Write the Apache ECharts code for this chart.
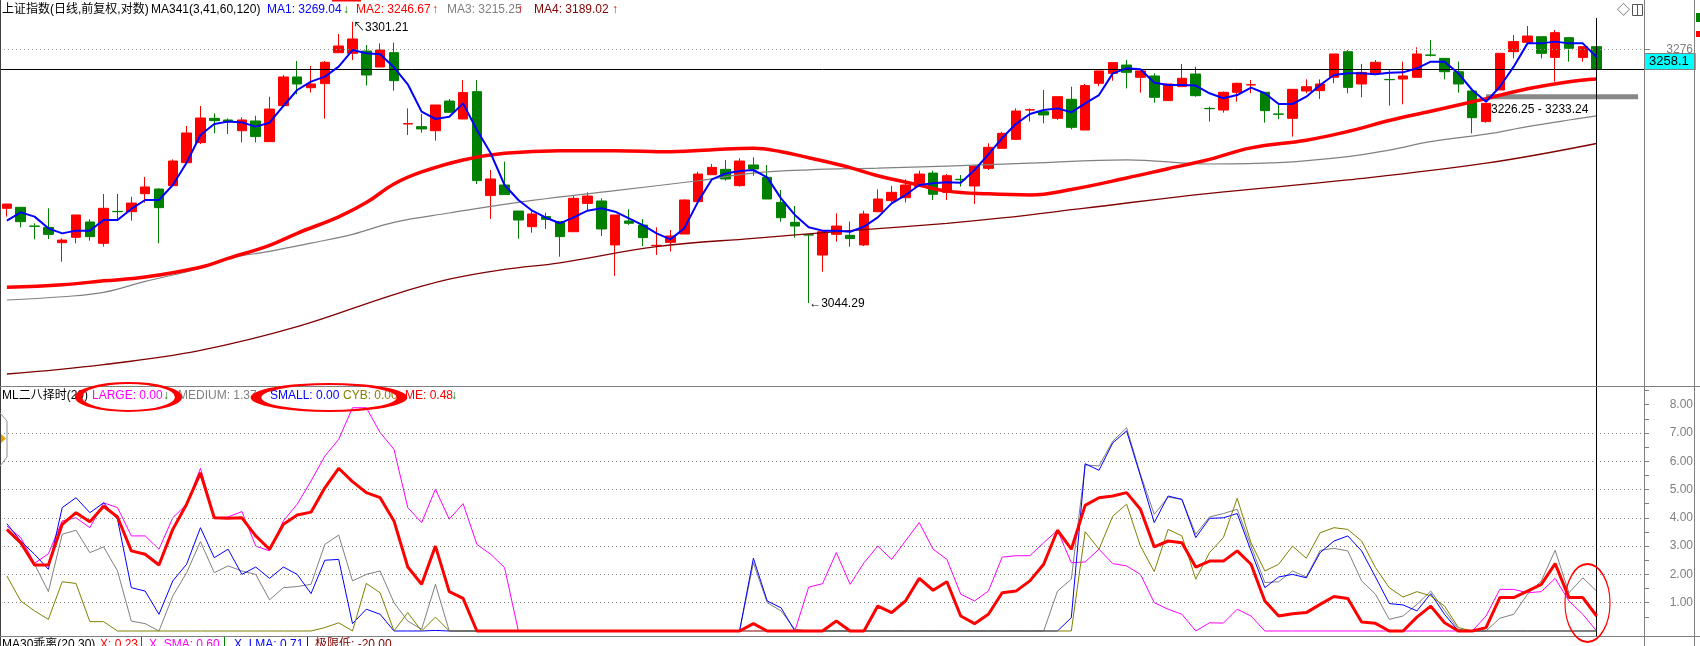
<!DOCTYPE html>
<html><head><meta charset="utf-8">
<script src="https://cdn.jsdelivr.net/npm/echarts@6/dist/echarts.min.js"></script>
<style>html,body{margin:0;padding:0;background:#fff}#c{width:1700px;height:646px}</style>
</head><body><div id="c"></div>
<script>
// ---------------- DATA ----------------
const openP = [3130.8,3131.7,3114.6,3113.4,3099.4,3104.3,3118.3,3098.8,3128.0,3127.7,
3144.2,3148.4,3151.5,3172.5,3190.8,3213.0,3211.5,3201.7,3210.6,3191.7,
3224.6,3250.8,3241.0,3244.7,3273.0,3272.4,3274.5,3259.9,3273.0,3207.8,
3205.4,3201.7,3228.8,3212.4,3237.4,3142.4,3152.1,3128.3,3114.0,3123.2,
3118.6,3109.4,3135.3,3137.5,3097.3,3119.2,3115.5,3096.7,3099.7,3107.3,
3136.9,3161.5,3166.4,3151.5,3170.4,3159.1,3136.2,3118.0,3106.6,3088.1,
3107.0,3106.1,3097.3,3127.7,3137.8,3140.5,3150.6,3163.0,3145.4,3157.3,
3151.2,3167.3,3185.6,3193.8,3220.6,3219.1,3213.0,3230.4,3202.3,3245.0,
3254.1,3261.7,3250.5,3251.7,3229.2,3242.0,3253.5,3222.1,3220.6,3236.8,
3243.5,3236.8,3217.0,3213.0,3238.0,3238.3,3250.5,3273.9,3244.4,3254.1,
3248.6,3248.9,3250.5,3270.9,3267.8,3255.6,3238.0,3210.0,3238.9,3273.9,
3282.5,3287.6,3268.7,3286.7,3268.7,3278.5];
const closeP = [3134.7,3118.6,3114.3,3107.0,3101.8,3124.7,3104.9,3130.8,3127.7,3135.6,
3150.3,3131.4,3174.0,3199.6,3213.3,3210.9,3209.9,3211.5,3196.3,3221.5,
3250.8,3244.4,3244.4,3264.2,3279.1,3285.5,3252.6,3275.4,3247.4,3208.3,
3203.3,3225.2,3218.5,3236.5,3156.1,3157.6,3143.3,3120.1,3125.6,3120.7,
3104.9,3139.9,3142.0,3111.9,3124.7,3117.1,3104.0,3097.0,3105.5,3138.4,
3162.1,3168.2,3157.6,3174.0,3166.7,3139.3,3122.2,3114.6,3106.4,3109.4,
3114.6,3103.1,3125.6,3139.3,3145.4,3152.1,3162.1,3143.6,3160.6,3156.9,
3169.5,3186.5,3199.3,3219.7,3220.9,3216.1,3232.8,3204.8,3242.9,3256.3,
3263.9,3255.0,3256.3,3232.2,3244.4,3249.6,3233.7,3221.8,3236.8,3245.0,
3243.8,3220.0,3216.7,3239.5,3241.9,3244.4,3271.8,3241.3,3255.0,3264.2,
3248.3,3251.7,3271.8,3270.6,3255.6,3244.4,3213.6,3226.7,3272.4,3283.1,
3288.2,3272.4,3291.3,3277.0,3278.5,3258.1];
const lowP = [3123.2,3113.4,3102.4,3102.7,3082.0,3098.8,3101.2,3095.8,3120.7,3119.5,
3136.0,3098.8,3151.5,3172.5,3189.5,3199.3,3198.7,3191.1,3191.1,3191.7,
3223.7,3235.0,3236.5,3212.7,3273.0,3266.3,3242.9,3259.9,3238.3,3197.8,
3199.9,3192.6,3218.5,3212.4,3153.0,3121.0,3143.3,3103.0,3108.5,3111.9,
3086.6,3109.4,3129.2,3105.5,3069.0,3115.5,3096.3,3088.1,3091.2,3107.3,
3136.9,3161.5,3156.0,3150.6,3160.6,3139.3,3118.6,3104.0,3044.29,3072.9,
3100.3,3095.7,3096.3,3127.7,3136.2,3136.2,3150.6,3138.4,3138.4,3150.6,
3134.7,3165.8,3185.6,3193.8,3210.0,3208.4,3211.5,3203.0,3202.3,3242.6,
3247.4,3240.4,3236.5,3227.3,3229.2,3242.0,3232.8,3210.0,3218.2,3228.2,
3235.9,3209.1,3212.1,3196.3,3235.9,3230.7,3245.0,3235.9,3232.2,3254.1,
3224.6,3225.8,3250.5,3269.4,3248.6,3236.5,3199.3,3209.1,3238.9,3267.8,
3281.5,3267.8,3246.5,3264.8,3264.8,3254.1];
const highP = [3134.7,3131.7,3117.1,3130.8,3103.4,3124.7,3120.7,3143.9,3143.9,3141.4,
3159.4,3149.0,3175.5,3206.0,3224.3,3217.6,3213.0,3213.9,3215.4,3232.8,
3252.6,3265.4,3260.8,3265.4,3290.0,3301.21,3280.0,3281.5,3282.1,3222.1,
3217.0,3225.2,3230.7,3248.0,3248.0,3165.8,3173.4,3128.3,3129.8,3126.8,
3118.6,3142.9,3145.4,3139.9,3124.7,3129.9,3121.0,3113.4,3111.0,3139.0,
3164.3,3171.3,3174.9,3176.5,3177.4,3170.4,3147.5,3132.9,3106.6,3109.4,
3126.2,3118.6,3128.6,3148.1,3151.2,3157.3,3165.2,3165.2,3162.1,3161.2,
3169.5,3190.2,3200.8,3222.1,3222.1,3238.9,3232.8,3241.9,3244.4,3256.3,
3263.9,3266.3,3256.3,3254.1,3244.4,3262.7,3260.2,3223.7,3237.4,3245.6,
3248.0,3236.8,3225.2,3239.5,3248.6,3248.6,3271.8,3275.4,3262.7,3266.3,
3257.2,3264.8,3277.9,3284.6,3267.8,3264.8,3238.0,3226.7,3272.4,3289.2,
3297.4,3287.6,3293.7,3286.7,3278.5,3278.5];

// MA1 (3-day), read at every candle
const ma1 = [3119.5,3127.1,3123.2,3112.5,3107.9,3110.4,3110.4,3120.1,3120.1,3130.2,
3138.4,3138.4,3152.1,3172.5,3197.8,3207.8,3210.0,3209.3,3205.4,3209.0,
3224.3,3238.9,3246.5,3251.1,3260.2,3275.4,3272.4,3271.5,3259.6,3244.1,
3219.1,3212.4,3214.5,3226.7,3202.3,3181.0,3152.1,3138.4,3128.6,3122.2,
3117.1,3122.5,3128.6,3130.8,3127.7,3121.6,3115.5,3107.9,3102.4,3112.5,
3136.9,3157.3,3162.7,3164.9,3165.8,3159.1,3139.9,3124.7,3113.4,3110.4,
3110.4,3109.4,3114.0,3122.5,3135.3,3142.9,3152.1,3153.6,3154.5,3154.2,
3165.8,3180.0,3195.0,3208.0,3217.0,3220.6,3222.1,3218.5,3226.7,3234.3,
3254.1,3258.7,3257.8,3245.6,3243.5,3243.5,3242.9,3235.9,3231.3,3234.3,
3241.0,3235.9,3226.1,3226.1,3232.8,3243.5,3252.6,3254.1,3254.1,3253.2,
3254.7,3255.0,3258.7,3264.8,3264.8,3254.1,3238.9,3228.2,3241.9,3260.2,
3281.5,3281.5,3283.1,3281.5,3281.5,3269.04];
// smooth MAs, read at selected candles [candle index, value]
const ma2Pts = [[0,3058.6],[4,3061],[7,3064.5],[10,3068],[14,3077],[16,3085],[19,3097],[21,3108],[24,3123],[26,3136],[28,3153],[30,3164],[33,3175],[36,3181],[40,3183.5],[44,3183.5],[48,3182.5],[52,3185],[54,3185.6],[56,3182.5],[58,3177],[61,3168],[63,3160.5],[66,3152],[68,3146.5],[71,3144],[74,3143],[77,3148],[81,3158.5],[84,3167],[87,3175.5],[90,3186],[94,3193],[97,3201],[100,3211],[103,3219.5],[107,3231],[110,3240],[113,3246.5],[115,3249]];
const ma3Pts = [[0,3047],[4,3050],[7,3054],[10,3064],[14,3076],[16,3085],[19,3091.5],[22,3099],[25,3107],[28,3118],[32,3126.5],[38,3138],[44,3147],[50,3156],[54,3163],[58,3166],[63,3167.5],[68,3169.4],[74,3172],[81,3175],[87,3171.3],[92,3172.5],[97,3178],[100,3184],[103,3191.7],[107,3198.5],[110,3205.4],[113,3211.5],[115,3215.25]];
const ma4Pts = [[0,2979.4],[7,2988],[14,3001],[21,3022.6],[28,3052],[32,3066],[36,3075],[40,3081],[47,3095.7],[54,3103.4],[61,3110.4],[68,3117.1],[72,3122],[78,3131],[87,3144.5],[97,3156.7],[107,3172],[115,3190]];

// indicator panel "ML二八择时(20)"
const large = [3.71,3.30,2.39,2.73,3.89,4.00,3.65,4.53,4.36,3.36,
3.36,2.89,4.00,4.48,5.75,4.00,4.03,4.22,3.00,2.83,
3.89,4.48,5.30,6.18,6.77,7.89,7.89,7.01,6.42,4.36,
3.83,5.01,3.95,4.50,3.06,2.71,2.24,0,0,0,
0,0,0,0,0,0,0,0,0,0,
0,0,0,0,0,0,0,0,1.55,1.67,
2.77,1.65,2.41,3.00,2.53,3.18,3.83,2.89,2.53,1.30,
1.06,1.41,2.61,2.66,2.66,3.12,3.56,2.41,2.44,2.89,
2.38,2.30,2.00,1.00,0.77,0.59,0,0.29,0.28,0.77,
0.53,0,0,0,0,0,0,0,0,0,
0,0,0,0,0,0,0,0.53,1.47,1.47,
1.35,1.39,1.86,1.06,0.59,0];
const medium = [3.53,3.06,2.36,1.39,3.42,3.56,2.77,2.97,2.12,0.35,
0.26,0,1.24,2.06,3.16,2.06,2.30,2.12,2.00,1.10,
1.53,1.57,1.65,3.06,3.39,1.77,2.00,2.12,1.00,0.35,
0.06,1.65,0,0,0,0,0,0,0,0,
0,0,0,0,0,0,0,0,0,0,
0,0,0,0,2.41,1.00,0.71,0.06,0,0,
0,0,0,0,0,0,0,0,0,0,
0,0,0,0,0,0,1.41,1.83,5.87,5.83,
6.71,7.18,5.54,4.12,4.73,4.65,3.42,4.03,4.15,4.30,
3.00,1.71,1.74,2.12,1.91,2.85,2.92,2.83,1.77,1.30,
0.41,0.53,0.94,1.41,0.73,0.06,0,0,0.45,0.59,
1.30,1.77,2.85,1.35,1.88,1.41];
const small = [3.79,3.18,2.71,2.18,4.36,4.71,4.18,4.53,3.95,1.53,
1.41,0.59,1.77,2.36,3.65,2.59,2.89,2.00,2.26,1.86,
2.26,2.00,1.32,2.50,2.53,0.26,0.77,0.59,0,0,
0,0.02,0,0,0,0,0,0,0,0,
0,0,0,0,0,0,0,0,0,0,
0,0,0,0,2.57,1.06,0.82,0,0,0,
0,0,0,0,0,0,0,0,0,0,
0,0,0,0,0,0,0,0.47,5.91,5.68,
6.65,7.07,5.48,3.83,4.77,4.65,3.30,3.98,4.00,4.15,
2.83,1.53,1.91,2.00,1.88,2.77,3.18,3.36,2.83,1.91,
0.97,0.92,0.71,1.32,0.59,0,0,0,0,0,
0,0,0,0,0,0];
const cyb = [1.94,1.06,0.71,0.41,1.74,1.68,0.33,0.33,0,0,
0,0,0,0,0,0,0,0,0,0,
0,0,0,0.12,0.29,0,1.68,1.35,0,0.65,
0,0.49,0,0,0,0,0,0,0,0,
0,0,0,0,0,0,0,0,0,0,
0,0,0,0,0,0,0,0,0,0,
0,0,0,0,0,0,0,0,0,0,
0,0,0,0,0,0,0,0,3.51,2.89,
4.06,4.48,3.00,2.10,3.59,3.36,1.83,2.77,3.30,4.69,
3.12,2.12,2.36,3.00,2.57,3.47,3.65,3.59,3.18,2.24,
1.53,1.20,1.39,1.24,0.88,0.12,0,0,0,0,
0,0,0,0,0,0];
const me = [3.59,3.12,2.33,2.33,3.77,4.18,3.86,4.41,4.03,2.83,
2.71,2.33,3.59,4.48,5.59,4.00,3.98,4.00,3.36,2.89,
3.77,4.10,4.20,5.06,5.75,5.28,4.89,4.71,3.89,2.26,
1.65,3.00,1.39,1.15,0,0,0,0,0,0,
0,0,0,0,0,0,0,0,0,0,
0,0,0,0,0.26,0,0,0,0,0,
0.35,0,0,0.88,0.65,1.06,1.86,1.44,1.74,0.53,
0.26,0.59,1.35,1.41,1.77,2.36,3.56,2.89,4.44,4.71,
4.77,4.89,4.30,2.97,3.18,3.12,2.26,2.47,2.47,2.83,
2.36,1.06,0.53,0.61,0.65,0.94,1.22,1.15,0.32,0.27,
0,0,0.49,0.88,0.29,0,0,0.12,1.18,1.18,
1.41,1.65,2.38,1.18,1.18,0.53];

// ticks / labels / legend values
const priceTicks = [3276];
const lastClose = 3258.1;
const gapBand = [3230.4, 3235.0];
const gapLabel = '3226.25 - 3233.24';
const indTicks = [1,2,3,4,5,6,7,8];
const indMinorTicks = [0.5,1,1.5,2,2.5,3,3.5,4,4.5,5,5.5,6,6.5,7,7.5,8,8.5];
const indGridLevels = [1,2,3,4,5,6,7];
const maNames = ['MA1','MA2','MA3','MA4'];
const maLast = ['3269.04','3246.67','3215.25','3189.02'];
const maArrow = ['↓','↑','↑','↑'];
const indNames = ['LARGE','MEDIUM','SMALL','CYB','ME'];
const indLast = ['0.00','1.37','0.00','0.00','0.48'];
const indArrow = ['↓','↓','','','↓'];
const subNames = ['X','X_SMA','X_LMA','极限低'];
const subLast = ['0.23','0.60','0.71','-20.00'];
const extraSlots = 3; // empty slots right of the last candle

// ---------------- CHART ----------------
const FONT = "'Liberation Sans','Noto Sans CJK SC',sans-serif";
const nCat = openP.length + extraSlots;
const cats = Array.from({length: nCat}, (_, i) => String(i));
const candles = openP.map((o, i) => [o, closeP[i], lowP[i], highP[i]]);
const lastIdx = openP.length - 1;
let hiIdx = 0, loIdx = 0;
highP.forEach((v, i) => { if (v > highP[hiIdx]) hiIdx = i; });
lowP.forEach((v, i) => { if (v < lowP[loIdx]) loIdx = i; });

const C = { blue:'#0000ff', red:'#ff0000', gray:'#808080', dred:'#800000', mag:'#ff00ff', olive:'#808000', green:'#008000' };

function txt(x, y, text, color, size, extra) {
  return Object.assign({ type:'text', x:x, y:y, silent:true, z:100,
    style:{ text:text, fill:color, font:(size||12)+'px '+FONT, verticalAlign:'middle' } }, extra||{});
}
function ln(x1,y1,x2,y2,color,w) {
  return { type:'line', silent:true, z:90, shape:{x1:x1,y1:y1,x2:x2,y2:y2}, style:{stroke:color, lineWidth:w||1} };
}
function ell(cx, cy, rx, ry) {
  return { type:'circle', silent:true, z:110, x:cx, y:cy, scaleX:rx/ry, scaleY:1,
    shape:{cx:0, cy:0, r:ry}, style:{fill:'none', stroke:'#ff0000', lineWidth:2, strokeNoScale:true} };
}

const g = [];
// main header
g.push(txt(2, 10, '上证指数(日线,前复权,对数)', '#000', 12));
g.push(txt(151, 10, 'MA341(3,41,60,120)', '#000', 12));
const maCol = [C.blue, C.red, C.gray, C.dred];
const maX = [267, 356, 447, 534], maAx = [343, 432, 517, 612];
const arrowCol = a => a === '↓' ? C.green : C.red;
maNames.forEach((n, i) => {
  g.push(txt(maX[i], 10, n + ': ' + maLast[i], maCol[i], 12));
  g.push(txt(maAx[i], 10, maArrow[i], arrowCol(maArrow[i]), 12));
});
// indicator header
g.push(txt(2, 396, 'ML二八择时(20)', '#000', 12));
const indCol = [C.mag, C.gray, C.blue, C.olive, C.red];
const indX = [92, 178, 270, 343, 405], indAx = [163, 255, 0, 0, 451];
indNames.forEach((n, i) => {
  g.push(txt(indX[i], 396, n + ': ' + indLast[i], indCol[i], 12));
  if (indArrow[i]) g.push(txt(indAx[i], 396, indArrow[i], C.green, 12));
});
// bottom (cut) header
g.push(txt(2, 645, 'MA30乖离(20,30)', '#000', 12));
const subCol = [C.red, C.mag, C.blue, C.dred];
const subX = [100, 149, 234, 315];
subNames.forEach((n, i) => g.push(txt(subX[i], 645, n + ': ' + subLast[i], subCol[i], 12)));
g.push(ln(141.5, 637, 141.5, 646, C.green, 1));
g.push(ln(224.5, 637, 224.5, 646, C.green, 1));
g.push(ln(307.5, 637, 307.5, 646, C.dred, 1));
// frame lines
g.push(ln(0.5, 0, 0.5, 646, '#404040', 1));
g.push(ln(1644.5, 0, 1644.5, 646, C.gray, 1));
g.push(ln(1694.5, 0, 1694.5, 646, C.gray, 1));
g.push(ln(0, 386.5, 1700, 386.5, C.gray, 1));
g.push(ln(0, 636.5, 1700, 636.5, C.gray, 1));
g.push(ln(332, 0.5, 361, 0.5, C.red, 2));
// icons top right
g.push(txt(1617, 10, '◇', '#555', 13));
g.push({ type:'rect', silent:true, z:100, shape:{x:1632.5, y:4.5, width:10, height:11}, style:{fill:'none', stroke:'#555', lineWidth:1} });
g.push(ln(1637.5, 4.5, 1637.5, 15.5, '#555', 1));
g.push({ type:'rect', silent:true, z:100, shape:{x:1696, y:13, width:4, height:9}, style:{fill:C.green} });
g.push({ type:'rect', silent:true, z:100, shape:{x:1696, y:31, width:4, height:6}, style:{fill:C.red} });
// small marker at the left of indicator panel
g.push({ type:'polyline', silent:true, z:100, shape:{points:[[0,413],[7,421],[7,457],[0,466]]}, style:{stroke:'#909090', lineWidth:1, fill:'none'} });
g.push({ type:'polygon', silent:true, z:100, shape:{points:[[1,434],[6,438.5],[1,443]]}, style:{fill:'#e8a000'} });
// gap label
g.push(txt(1491, 110, gapLabel, '#000', 12));
// hand drawn ellipses
g.push(ell(128.5, 397, 50, 14));
g.push(ell(329, 397.5, 73, 13.5));
g.push(ell(1587.5, 603, 22.5, 39));

const lineBase = { type:'line', symbol:'none', silent:true, animation:false };

const option = {
  animation: false,
  backgroundColor: '#ffffff',
  textStyle: { fontFamily: FONT },
  grid: [
    { left: 0, top: 18, width: 1645, height: 368 },
    { left: 0, top: 387, width: 1645, height: 249 }
  ],
  xAxis: [
    { type:'category', gridIndex:0, data:cats, boundaryGap:true, show:false },
    { type:'category', gridIndex:1, data:cats, boundaryGap:true, show:false }
  ],
  yAxis: [
    { type:'value', gridIndex:0, position:'right', min:2968.44, max:3304.68,
      splitLine:{show:false}, axisLine:{show:false},
      axisTick:{show:true, customValues:priceTicks, length:5, lineStyle:{color:C.gray}},
      axisLabel:{show:true, customValues:priceTicks, formatter:v => String(Math.round(v)), color:C.gray, fontSize:12, fontFamily:FONT, align:'right', margin:48} },
    { type:'value', gridIndex:1, position:'right', min:-0.177, max:8.622,
      splitLine:{show:false}, axisLine:{show:false},
      axisTick:{show:true, customValues:indMinorTicks, length:4, lineStyle:{color:C.gray}},
      axisLabel:{show:true, customValues:indTicks, formatter:v => Number(v).toFixed(2), color:C.gray, fontSize:12, fontFamily:FONT, align:'right', margin:48} }
  ],
  series: [
    { type:'candlestick', name:'K', xAxisIndex:0, yAxisIndex:0, data:candles, barWidth:10, silent:true, z:2,
      itemStyle:{ color:C.red, color0:C.green, borderColor:C.red, borderColor0:C.green, borderWidth:1 },
      markLine:{ silent:true, symbol:['none','none'], animation:false, label:{show:false},
        data:[
          { yAxis: priceTicks[0], lineStyle:{color:'#9a9a9a', type:[1,3], width:1} },
          { yAxis: lastClose, lineStyle:{color:'#000', type:'solid', width:1},
            label:{ show:true, position:'end', distance:0, formatter:String(lastClose), color:'#000',
              backgroundColor:'#00ffff', borderColor:C.gray, borderWidth:1, padding:[1,6,1,4],
              fontSize:13, lineHeight:13, fontFamily:FONT, align:'left', verticalAlign:'bottom' } },
          { xAxis: cats[lastIdx], lineStyle:{color:'#000', type:'solid', width:1} }
        ] },
      markArea:{ silent:true, label:{show:false}, itemStyle:{color:'#888888', opacity:1},
        data:[[ { xAxis:cats[107], yAxis:gapBand[0] }, { xAxis:cats[nCat-1], yAxis:gapBand[1] } ]] },
      markPoint:{ silent:true, symbol:'circle', symbolSize:1, itemStyle:{color:'rgba(0,0,0,0)'},
        label:{ show:true, position:'right', distance:0, color:'#000', fontSize:12, fontFamily:FONT },
        data:[
          { coord:[cats[hiIdx], highP[hiIdx]], label:{ formatter:'↖' + highP[hiIdx].toFixed(2), offset:[0,6] } },
          { coord:[cats[loIdx], lowP[loIdx]], label:{ formatter:'←' + lowP[loIdx].toFixed(2), offset:[0,1] } }
        ] } },
    Object.assign({}, lineBase, { name:'MA4', xAxisIndex:0, yAxisIndex:0, data:ma4Pts, smooth:0.4, z:3, lineStyle:{color:C.dred, width:1.3} }),
    Object.assign({}, lineBase, { name:'MA3', xAxisIndex:0, yAxisIndex:0, data:ma3Pts, smooth:0.4, z:3, lineStyle:{color:C.gray, width:1.2} }),
    Object.assign({}, lineBase, { name:'MA2', xAxisIndex:0, yAxisIndex:0, data:ma2Pts, smooth:0.4, z:4, lineStyle:{color:C.red, width:3.5} }),
    Object.assign({}, lineBase, { name:'MA1', xAxisIndex:0, yAxisIndex:0, data:ma1, z:5, lineStyle:{color:C.blue, width:2} }),
    Object.assign({}, lineBase, { name:'LARGE', xAxisIndex:1, yAxisIndex:1, data:large, z:3, lineStyle:{color:C.mag, width:1},
      markLine:{ silent:true, symbol:['none','none'], label:{show:false}, lineStyle:{color:C.gray, type:[1,3], width:1},
        data: indGridLevels.map(v => ({ yAxis: v })) } }),
    Object.assign({}, lineBase, { name:'MEDIUM', xAxisIndex:1, yAxisIndex:1, data:medium, z:4, lineStyle:{color:C.gray, width:1} }),
    Object.assign({}, lineBase, { name:'SMALL', xAxisIndex:1, yAxisIndex:1, data:small, z:5, lineStyle:{color:C.blue, width:1} }),
    Object.assign({}, lineBase, { name:'CYB', xAxisIndex:1, yAxisIndex:1, data:cyb, z:6, lineStyle:{color:C.olive, width:1} }),
    Object.assign({}, lineBase, { name:'ME', xAxisIndex:1, yAxisIndex:1, data:me, z:7, lineStyle:{color:C.red, width:3},
      markLine:{ silent:true, symbol:['none','none'], label:{show:false}, lineStyle:{color:'#000', type:'solid', width:1},
        data:[ { xAxis: cats[lastIdx] } ] } })
  ],
  graphic: { elements: g }
};

const chart = echarts.init(document.getElementById('c'), null, { renderer:'canvas', width:1700, height:646 });
chart.setOption(option);
</script>
</body></html>
